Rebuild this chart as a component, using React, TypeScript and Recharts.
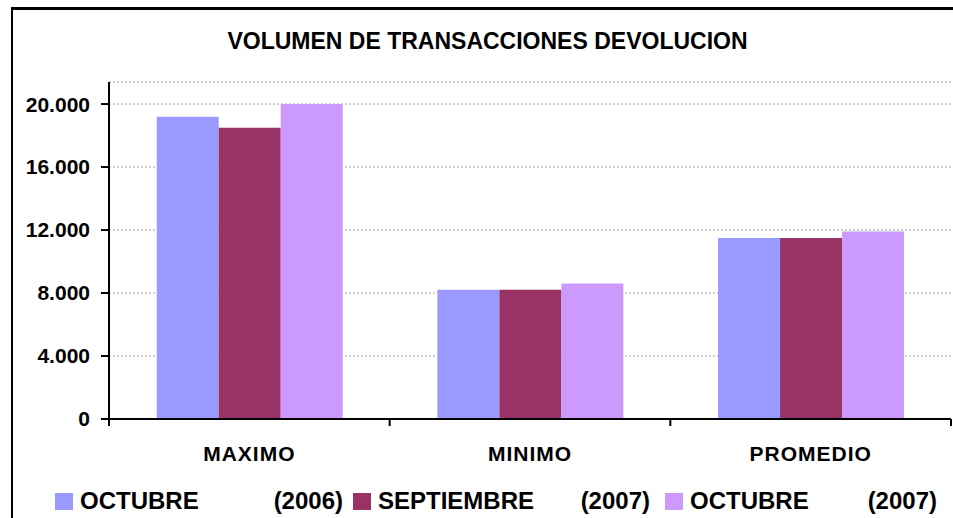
import React from 'react';
import { BarChart, Bar, XAxis, YAxis, CartesianGrid } from 'recharts';

// volumen de transacciones devolucion
const categories = ['MAXIMO', 'MINIMO', 'PROMEDIO'];
const octubre2006 = [19200, 8200, 11500];
const septiembre2007 = [18500, 8200, 11500];
const octubre2007 = [20000, 8600, 11900];
const yTicks = [0, 4000, 8000, 12000, 16000, 20000];
const seriesMonths = ['OCTUBRE', 'SEPTIEMBRE', 'OCTUBRE'];
const seriesYears = ['(2006)', '(2007)', '(2007)'];

const COLORS = ['#9999FF', '#993366', '#CC99FF'];
const FONT = '"Liberation Sans", Arial, sans-serif';
const Y_MAX = 21400;

const data = categories.map((c, i) => ({
  cat: c,
  s0: octubre2006[i],
  s1: septiembre2007[i],
  s2: octubre2007[i],
}));

const fmt = (v: number) => v.toLocaleString('de-DE');

function CatTick(props: any) {
  const { x, y, payload, index } = props;
  const half = payload?.offset ?? 0;
  const axisY = y - 27;
  return (
    <g>
      <line x1={x - half} y1={axisY} x2={x - half} y2={axisY + 7} stroke="#000" strokeWidth={2} />
      {index === categories.length - 1 && (
        <line x1={x + half} y1={axisY} x2={x + half} y2={axisY + 7} stroke="#000" strokeWidth={2} />
      )}
      <text x={x} y={y} dy="0.71em" textAnchor="middle" fontFamily={FONT} fontWeight={700}
        fontSize={21} letterSpacing={1} fill="#000">
        {payload.value}
      </text>
    </g>
  );
}

export default function App() {
  const legendLeft = [55, 353, 665];
  const legendRight = [341, 648, 935];
  return (
    <div style={{ position: 'absolute', left: 0, top: 0, width: 953, height: 518, background: '#fff', overflow: 'hidden' }}>
      <div style={{
        position: 'absolute', left: 11, top: 7, width: 980, height: 560,
        borderLeft: '2px solid #000', borderTop: '3px solid #000',
      }} />
      <div style={{
        position: 'absolute', left: 0, top: 28, width: 975, textAlign: 'center',
        fontFamily: FONT, fontWeight: 700, fontSize: 23, color: '#000',
      }}>
        VOLUMEN DE TRANSACCIONES DEVOLUCION
      </div>
      <BarChart width={953} height={518} data={data}
        margin={{ top: 82, right: 2, left: 9, bottom: 39 }}
        barCategoryGap="17%" barGap={0}>
        <CartesianGrid vertical={false} stroke="#a0a0a0" strokeDasharray="2 2" />
        <XAxis dataKey="cat" height={60} tickLine={false} tickSize={8} tickMargin={19}
          axisLine={{ stroke: '#000', strokeWidth: 2 }} tick={<CatTick />} interval={0} />
        <XAxis xAxisId="t" dataKey="cat" orientation="top" height={0} tick={false} tickLine={false}
          axisLine={{ stroke: '#808080', strokeWidth: 2 }} />
        <YAxis domain={[0, Y_MAX]} ticks={yTicks} width={100} tickSize={8} tickMargin={11}
          tickFormatter={fmt} allowDataOverflow
          axisLine={{ stroke: '#000', strokeWidth: 2 }} tickLine={{ stroke: '#000', strokeWidth: 2 }}
          tick={{ fontFamily: FONT, fontWeight: 700, fontSize: 21, fill: '#000' }} />
        <YAxis yAxisId="r" orientation="right" width={0} tick={false} tickLine={false}
          axisLine={{ stroke: '#808080', strokeWidth: 2 }} />
        <Bar dataKey="s0" fill={COLORS[0]} isAnimationActive={false} />
        <Bar dataKey="s1" fill={COLORS[1]} isAnimationActive={false} />
        <Bar dataKey="s2" fill={COLORS[2]} isAnimationActive={false} />
      </BarChart>
      {seriesMonths.map((m, i) => (
        <div key={i} style={{
          position: 'absolute', left: legendLeft[i], top: 487, width: legendRight[i] - legendLeft[i] + 2,
          height: 28, fontFamily: FONT, fontWeight: 700, fontSize: 24, color: '#000',
        }}>
          <span style={{ position: 'absolute', left: 0, top: 6, width: 18, height: 17, background: COLORS[i] }} />
          <span style={{ position: 'absolute', left: 25, top: 0 }}>{m}</span>
          <span style={{ position: 'absolute', right: 0, top: 0 }}>{seriesYears[i]}</span>
        </div>
      ))}
    </div>
  );
}
